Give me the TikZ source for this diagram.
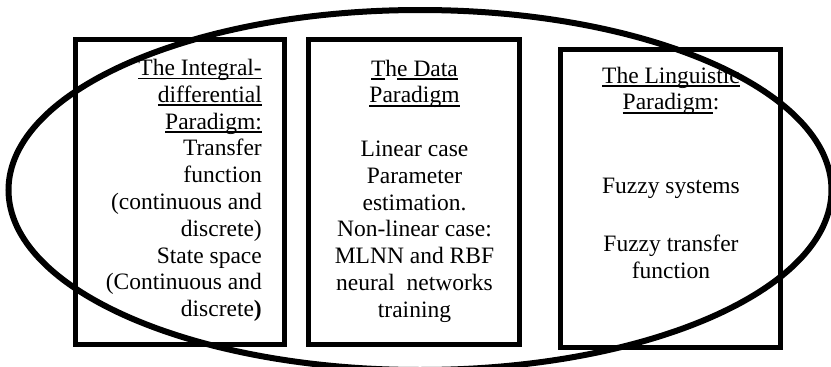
\documentclass[tikz,border=0pt]{standalone}
\usepackage{fontspec}
\setmainfont{Liberation Serif}
\usetikzlibrary{shapes.geometric}
\newsavebox\ulbox
\newcommand\myul[1]{\sbox\ulbox{#1}\rlap{\rule[-3.8pt]{\wd\ulbox}{1.8pt}}\usebox\ulbox}
\tikzset{
  panel/.style={draw=black, line width=5.5pt, rectangle, inner sep=0pt},
  txt/.style={inner sep=0pt, font=\fontsize{23.5}{26.8}\selectfont, text=black},
  frame/.style={draw=black, line width=6pt, ellipse, inner sep=0pt}
}
\begin{document}
\begin{tikzpicture}[x=1pt, y=-1pt]
\useasboundingbox (0,0) rectangle (831,367);
% boxes
\node[panel, minimum width=209pt, minimum height=305pt] (box1) at (180,192) {};
\node[panel, minimum width=211pt, minimum height=305pt] (box2) at (414,192) {};
\node[panel, minimum width=220pt, minimum height=298pt] (box3) at (670.5,198.5) {};
% box 1 text
\foreach \t [count=\i] in {{\myul{The Integral-}}, {\myul{differential}}, {\myul{Paradigm:}}, {Transfer}, {function}, {(continuous and}, {discrete)}, {State space}, {(Continuous and}, {discrete\textbf{)}}}
  \node[txt, anchor=base east] (a\i) at (262, {75.5+(\i-1)*26.8}) {\t};
% box 2 text
\foreach \t/\k in {{\myul{T}h\myul{e Data}}/1, {\myul{Paradigm}}/2, {Linear case}/4, {Parameter}/5, {estimation.}/6, {Non-linear case:}/7, {MLNN and RBF}/8, {neural\ \ networks}/9, {training}/10}
  \node[txt, anchor=base] (b\k) at (414.5, {76+(\k-1)*26.8}) {\t};
% box 3 text
\node[txt, anchor=base] (c1) at (671, 83) {\myul{The Linguistic}};
\node[txt, anchor=base] (c2) at (671, 109.8) {\myul{Paradigm}:};
\node[txt, anchor=base] (c3) at (671, 193.3) {Fuzzy systems};
\node[txt, anchor=base] (c4) at (671, 251.7) {Fuzzy transfer};
\node[txt, anchor=base] (c5) at (671, 278.5) {function};
% ellipse on top
\node[frame, minimum width=823pt, minimum height=360pt] (ell) at (420,190) {};
\end{tikzpicture}
\end{document}
